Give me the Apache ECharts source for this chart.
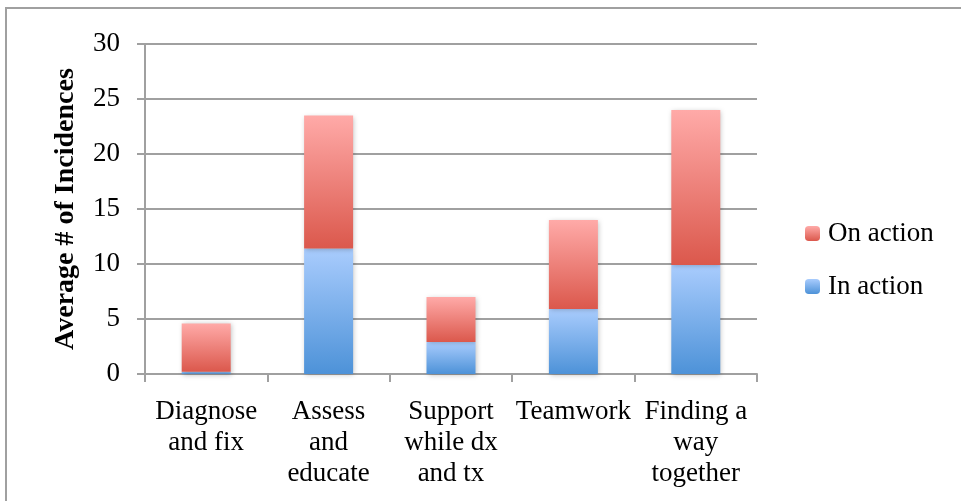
<!DOCTYPE html>
<html>
<head>
<meta charset="utf-8">
<script src="https://cdn.jsdelivr.net/npm/echarts@6/dist/echarts.min.js"></script>
<style>
  html, body { margin: 0; padding: 0; background: #fff; }
  #chart { width: 961px; height: 501px; }
</style>
</head>
<body>
<div id="chart"></div>
<script>
// categories and values
var categories = ['Diagnose\nand fix', 'Assess\nand\neducate', 'Support\nwhile dx\nand tx', 'Teamwork', 'Finding a\nway\ntogether'];
var inAction = [0.2, 11.4, 2.9, 5.9, 9.9];
var onAction = [4.4, 12.1, 4.1, 8.1, 14.1];

var serif = '"Liberation Serif", "DejaVu Serif", serif';

function grad(top, bottom) {
  return new echarts.graphic.LinearGradient(0, 0, 0, 1, [
    { offset: 0, color: top },
    { offset: 1, color: bottom }
  ]);
}

var chart = echarts.init(document.getElementById('chart'));
chart.setOption({
  animation: false,
  textStyle: { fontFamily: serif },
  grid: { left: 145, right: 204, top: 44, bottom: 127 },
  // page frame around the figure
  graphic: [{
    type: 'rect',
    shape: { x: 6, y: 8, width: 1000, height: 600 },
    style: { fill: 'none', stroke: '#a0a0a0', lineWidth: 2 },
    silent: true
  }],
  legend: {
    orient: 'vertical',
    left: 805,
    top: 220,
    padding: 0,
    itemWidth: 15,
    itemHeight: 15,
    itemGap: 26,
    data: ['On action', 'In action'],
    textStyle: { fontFamily: serif, fontSize: 27, color: '#000', padding: [0, 0, 0, 3] }
  },
  xAxis: {
    type: 'category',
    data: categories,
    axisLine: { lineStyle: { color: '#a0a0a0', width: 2 } },
    axisTick: { show: true, length: 8, lineStyle: { color: '#a0a0a0', width: 2 } },
    axisLabel: {
      interval: 0,
      color: '#000',
      fontFamily: serif,
      fontSize: 27,
      lineHeight: 31,
      margin: 22,
      align: 'center'
    }
  },
  yAxis: {
    type: 'value',
    min: 0,
    max: 30,
    interval: 5,
    name: 'Average # of Incidences',
    nameLocation: 'middle',
    nameGap: 65,
    nameTextStyle: { fontFamily: serif, fontSize: 28, fontWeight: 'bold', color: '#000' },
    axisLine: { show: true, lineStyle: { color: '#a0a0a0', width: 2 } },
    axisTick: { show: true, length: 8, lineStyle: { color: '#a0a0a0', width: 2 } },
    axisLabel: { color: '#000', fontFamily: serif, fontSize: 27, margin: 25 },
    splitLine: { lineStyle: { color: '#a0a0a0', width: 2 } }
  },
  series: [{
    name: 'In action',
    type: 'bar',
    stack: 'total',
    barWidth: 49,
    data: inAction,
    itemStyle: {
      color: grad('#a9ccfd', '#4d92d8'),
      shadowBlur: 5,
      shadowColor: 'rgba(0,0,0,0.25)',
      shadowOffsetX: 1,
      shadowOffsetY: 1
    }
  }, {
    name: 'On action',
    type: 'bar',
    stack: 'total',
    barWidth: 49,
    data: onAction,
    itemStyle: {
      color: grad('#ffaaa8', '#db584c'),
      shadowBlur: 5,
      shadowColor: 'rgba(0,0,0,0.25)',
      shadowOffsetX: 1,
      shadowOffsetY: 1
    }
  }]
});
</script>
</body>
</html>
